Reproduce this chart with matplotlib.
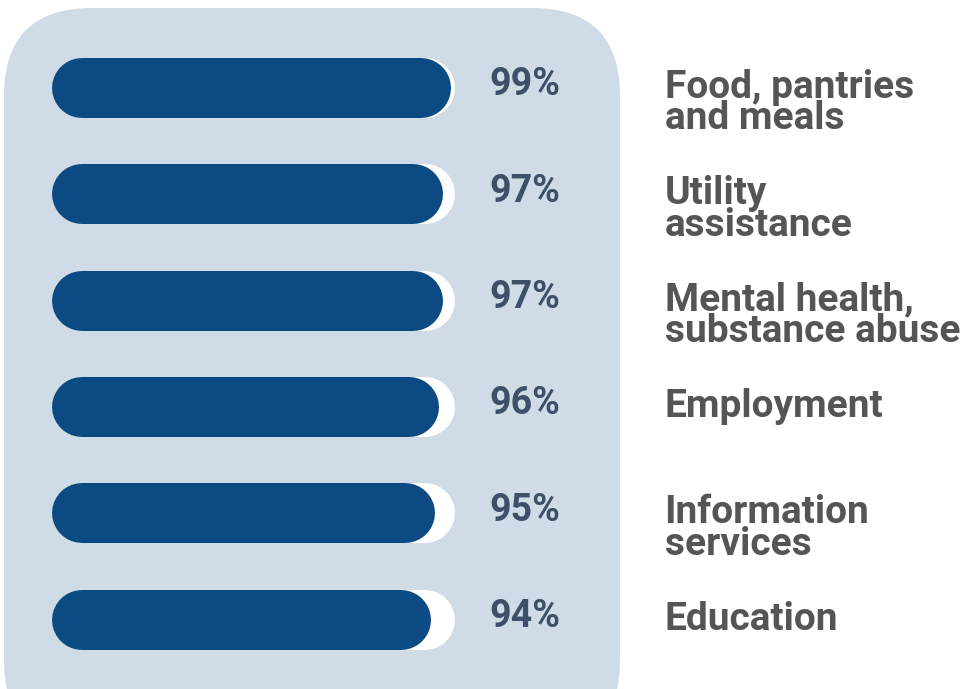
import matplotlib
matplotlib.use('Agg')
from matplotlib import pyplot as plt
from matplotlib.patches import FancyBboxPatch

# data
categories = ['Food, pantries\nand meals', 'Utility\nassistance',
              'Mental health,\nsubstance abuse', 'Employment',
              'Information\nservices', 'Education']
values = [99, 97, 97, 96, 95, 94]
labels = ['99%', '97%', '97%', '96%', '95%', '94%']

PANEL = '#cfdbe6'
BAR = '#0b4a82'
PCT = '#3e5068'
CAT = '#555555'

W, H = 967, 689
fig = plt.figure(figsize=(W / 100, H / 100), dpi=100)
fig.patch.set_facecolor('white')

# background panel, drawn in pixel units
bg = fig.add_axes([0, 0, 1, 1])
bg.set_xlim(0, W)
bg.set_ylim(H, 0)
bg.axis('off')
bg.add_patch(FancyBboxPatch((4, 8), 616, 740, boxstyle='round,pad=0,rounding_size=88',
                            facecolor=PANEL, edgecolor='none'))

# data axes: 0..100 spans the track (px 52 -> 455), rows 106 px apart
ax = fig.add_axes([0, 0, 1, 1])
ax.patch.set_alpha(0)
ax.axis('off')
px = 403 / 100.0
ax.set_xlim(-52 / px, (W - 52) / px)
row = 106.3
ax.set_ylim((H - 88) / row, -88 / row)

bar_px = 60
lw = bar_px * 72 / 100.0
r = bar_px / 2 / px  # cap radius in data units

for i, (v, lab, cat) in enumerate(zip(values, labels, categories)):
    ax.plot([r, 100 - r], [i, i], color='white', lw=lw, solid_capstyle='round')
    ax.plot([r, v - r], [i, i], color=BAR, lw=lw, solid_capstyle='round')
    ax.text(108.5, i - 0.03, lab, ha='left', va='center', fontsize=27,
            fontweight='bold', family='Roboto', color=PCT)
    # two-line labels sit a little lower than the bar centre
    dy = -11 if '\n' in cat else 0
    ax.annotate(cat, (152, i), xytext=(0, dy), textcoords='offset points',
                ha='left', va='center', fontsize=28, fontweight='bold',
                family='Roboto', color=CAT, linespacing=0.8)

fig.savefig('out.png', dpi=100)
